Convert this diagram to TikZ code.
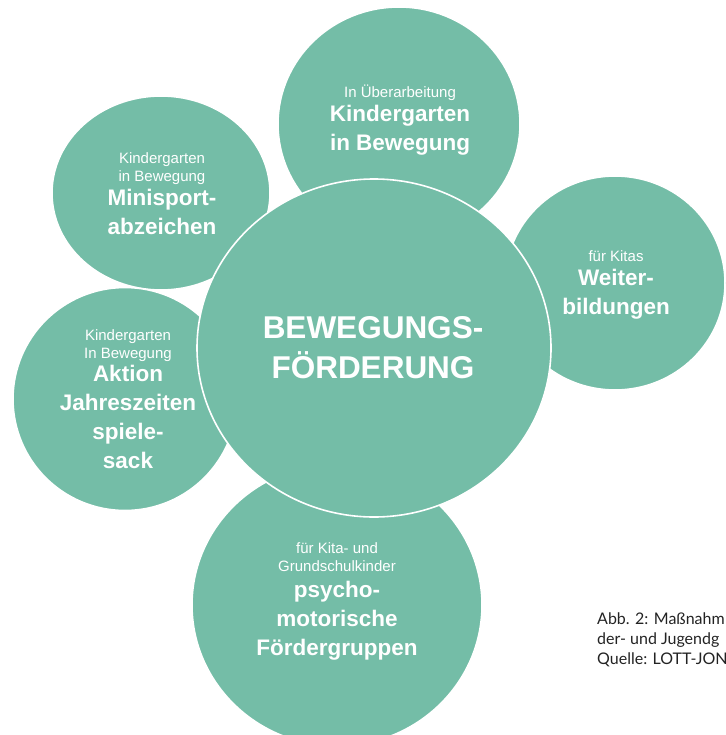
\documentclass[tikz,border=0pt]{standalone}
\usepackage{fontspec}
\setmainfont{Liberation Sans}
\newfontfamily\capfont{Lato}
\usetikzlibrary{shapes.geometric}

\definecolor{bubblegreen}{RGB}{116,189,167}
\definecolor{captiongray}{RGB}{35,35,35}

\newcommand{\klein}{\fontsize{15}{18}\selectfont\mdseries}
\newcommand{\gross}{\fontsize{22.5}{29}\selectfont\bfseries}
\newcommand{\riesig}{\fontsize{31.5}{40}\selectfont\bfseries}

\begin{document}
\begin{tikzpicture}[x=1pt, y=-1pt,
    bubble/.style={ellipse, fill=bubblegreen, draw=white, line width=1.6pt, inner sep=0pt},
    bubbletext/.style={text=white, align=center, inner sep=0pt, font=\gross}]
  \useasboundingbox (0,0) rectangle (725,735);
  \clip (0,0) rectangle (725,735);

  % outer bubbles
  \node[bubble, minimum width=218pt, minimum height=194pt] (mini) at (161,193) {};
  \node[bubble, minimum width=224pt, minimum height=223pt] (aktion) at (125,399) {};
  \node[bubble, minimum width=242pt, minimum height=234pt] (kiga) at (399,124) {};
  \node[bubble, minimum width=220pt, minimum height=214pt] (weiter) at (615,283) {};
  \node[bubble, minimum width=290pt, minimum height=282pt] (psycho) at (337,605) {};

  % centre bubble on top
  \node[bubble, minimum width=354pt, minimum height=338pt] (mitte) at (374,348) {};

  \node[bubbletext] (minitxt) at (162,193.5)
    {\klein Kindergarten\\[-11pt] \klein in Bewegung\\[-5.5pt] Minisport-\\ abzeichen};
  \node[bubbletext] (aktiontxt) at (128,399)
    {\klein Kindergarten\\[-11pt] \klein In Bewegung\\[-5.5pt] Aktion\\ Jahreszeiten\\ spiele-\\ sack};
  \node[bubbletext] (kigatxt) at (400,120)
    {\klein In Überarbeitung\\[-5.5pt] Kindergarten\\ in Bewegung};
  \node[bubbletext] (weitertxt) at (616,285)
    {\klein für Kitas\\[-5.5pt] Weiter-\\ bildungen};
  \node[bubbletext] (psychotxt) at (337,601)
    {\klein für Kita- und\\[-11pt] \klein Grundschulkinder\\[-3pt] psycho-\\ motorische\\ Fördergruppen};
  \node[bubbletext, font=\riesig] (mittetxt) at (373,348)
    {BEWEGUNGS-\\ FÖRDERUNG};

  % caption, cut off at the right edge
  \node[anchor=base west, align=left, inner sep=0pt, text=captiongray,
        font=\capfont\fontsize{16}{20}\selectfont] (caption) at (597,664)
    {Abb. 2: Maßnahm\\ der- und Jugendg\\ Quelle: LOTT-JON};
\end{tikzpicture}
\end{document}
